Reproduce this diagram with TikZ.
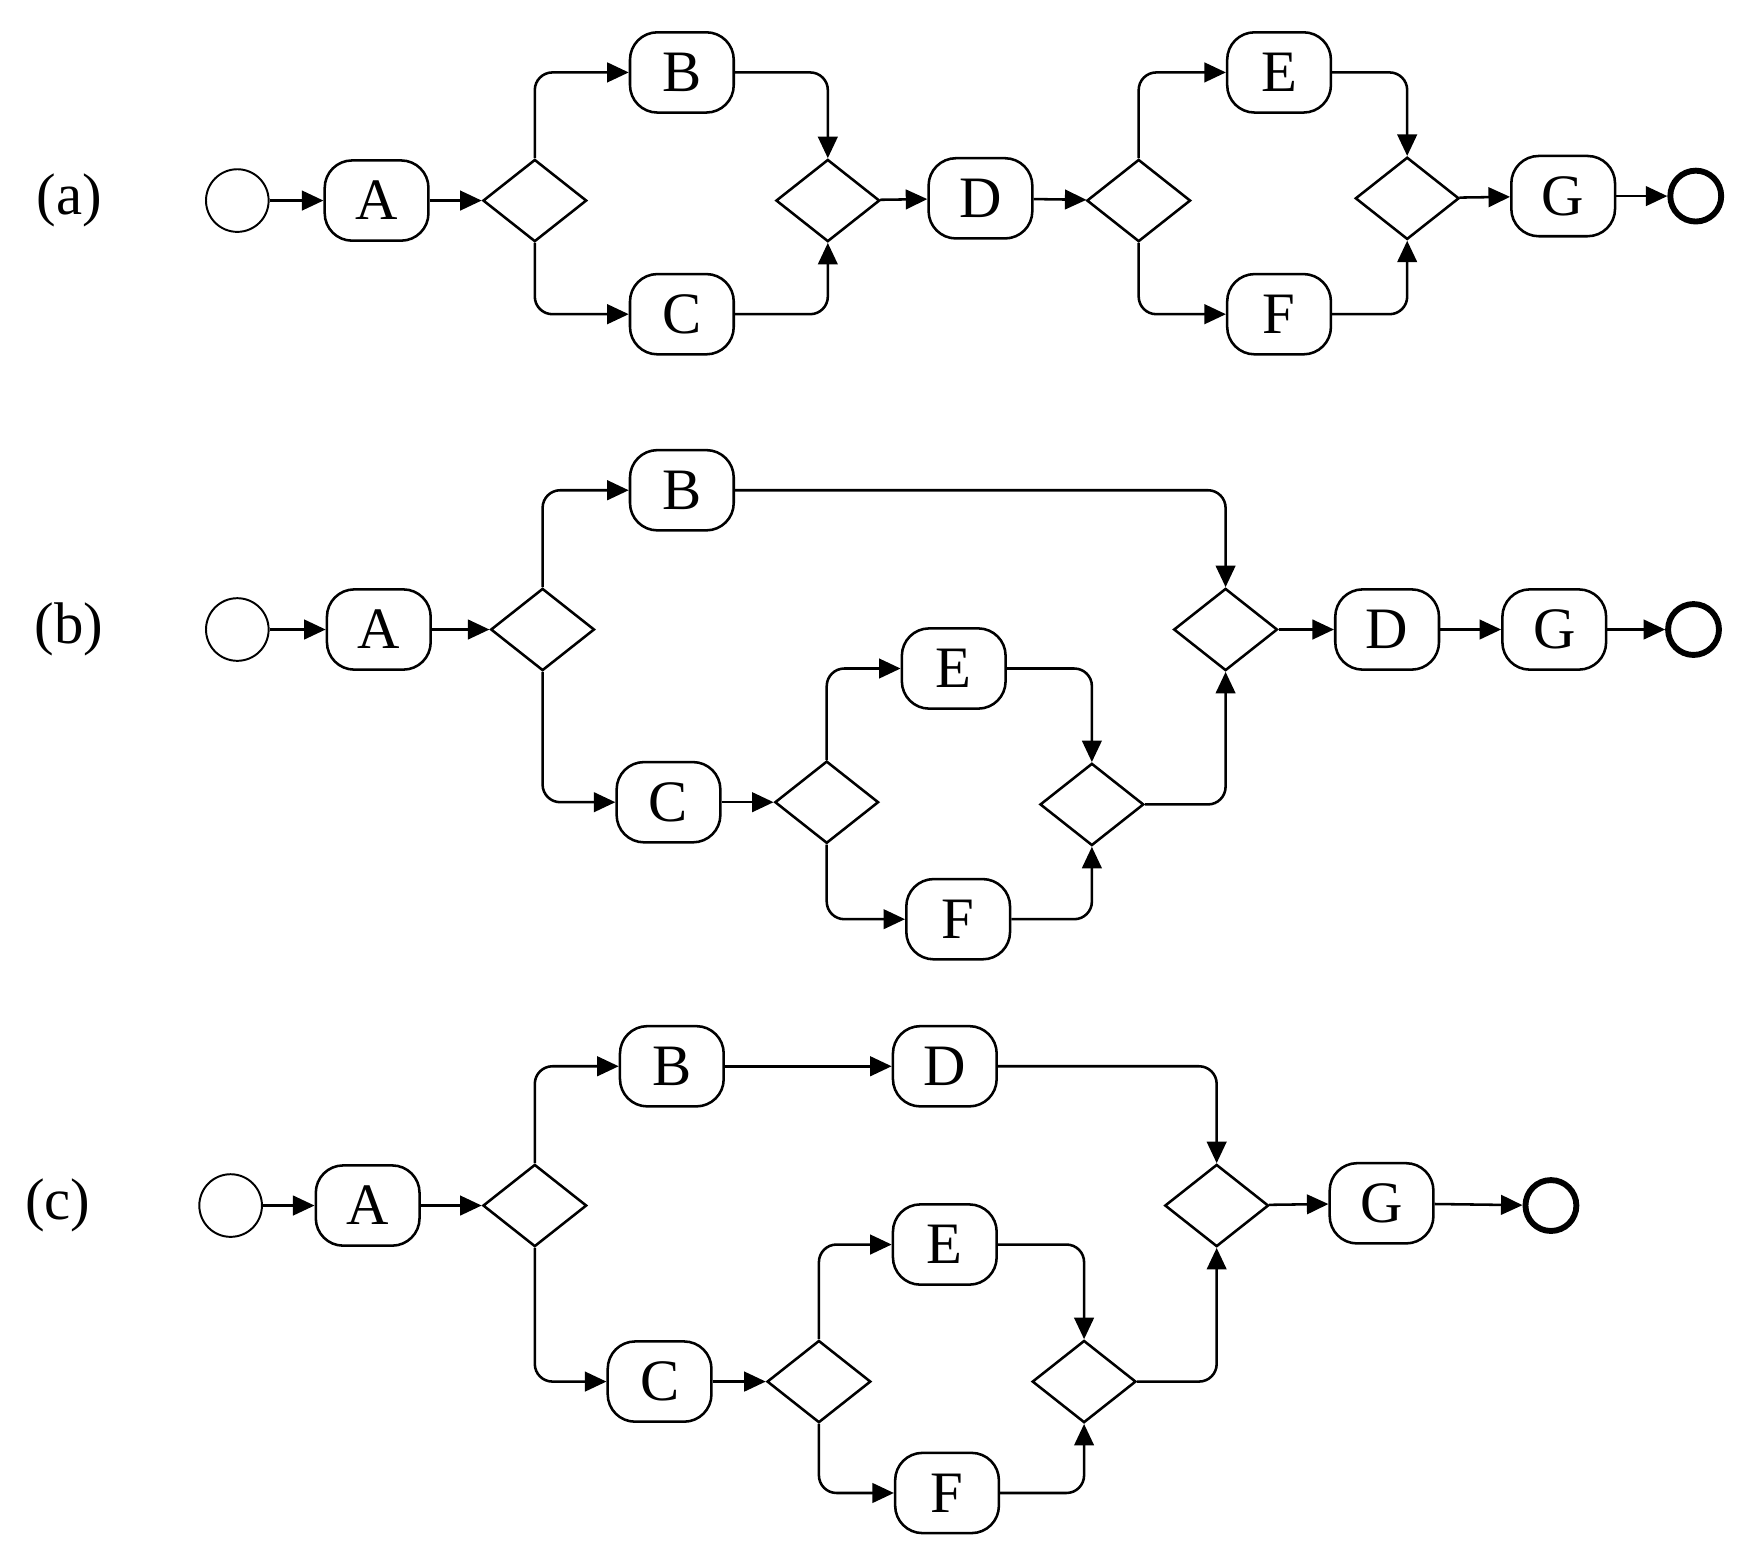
\documentclass[tikz,border=0pt]{standalone}
\usepackage{fontspec}
\setmainfont{Liberation Serif}
\usetikzlibrary{shapes.geometric,arrows.meta}
\begin{document}
\begin{tikzpicture}[x=0.02cm,y=-0.02cm,
  font=\fontsize{30}{36}\selectfont,
  task/.style={draw,line width=1.3pt,rounded corners=14pt,minimum width=53pt,minimum height=41pt,inner sep=0pt},
  gw/.style={draw,line width=1.3pt,diamond,minimum width=53pt,minimum height=42pt,inner sep=0pt,aspect=1.27},
  st/.style={draw,line width=1pt,circle,minimum size=32pt,inner sep=0pt},
  en/.style={draw,line width=3pt,circle,minimum size=26pt,inner sep=0pt},
  fl/.style={line width=1.3pt,rounded corners=9pt,-{Triangle[length=11pt,width=10pt]}},
  lab/.style={}]
\useasboundingbox (0,0) rectangle (1568,1407);
% (a)
\node[lab] (la) at (62,180) {(a)};
\node[st] (as) at (213,180) {};
\node[task] (aA) at (338,180) {A};
\node[gw] (ag1) at (480,180) {};
\node[task] (aB) at (612,65) {B};
\node[task] (aC) at (612,282) {C};
\node[gw] (aj1) at (743,180) {};
\node[task] (aD) at (880,178) {D};
\node[gw] (ag2) at (1022,180) {};
\node[task] (aE) at (1148,65) {E};
\node[task] (aF) at (1148,282) {F};
\node[gw] (aj2) at (1263,178) {};
\node[task] (aG) at (1403,176) {G};
\node[en] (ae) at (1522,176) {};
\draw[fl] (as) -- (aA);
\draw[fl] (aA) -- (ag1);
\draw[fl] (ag1.north) |- (aB);
\draw[fl] (ag1.south) |- (aC);
\draw[fl] (aB) -| (aj1.north);
\draw[fl] (aC) -| (aj1.south);
\draw[fl] (aj1) -- (aD);
\draw[fl] (aD) -- (ag2);
\draw[fl] (ag2.north) |- (aE);
\draw[fl] (ag2.south) |- (aF);
\draw[fl] (aE) -| (aj2.north);
\draw[fl] (aF) -| (aj2.south);
\draw[fl] (aj2) -- (aG);
\draw[fl] (aG) -- (ae);
% (b)
\node[lab] (lb) at (62,565) {(b)};
\node[st] (bs) at (213,565) {};
\node[task] (bA) at (340,565) {A};
\node[gw] (bg1) at (487,565) {};
\node[task] (bB) at (612,440) {B};
\node[task] (bC) at (600,720) {C};
\node[gw] (bg2) at (742,720) {};
\node[task] (bE) at (856,600) {E};
\node[task] (bF) at (860,825) {F};
\node[gw] (bj2) at (980,722) {};
\node[gw] (bj1) at (1100,565) {};
\node[task] (bD) at (1245,565) {D};
\node[task] (bG) at (1395,565) {G};
\node[en] (be) at (1520,565) {};
\draw[fl] (bs) -- (bA);
\draw[fl] (bA) -- (bg1);
\draw[fl] (bg1.north) |- (bB);
\draw[fl] (bg1.south) |- (bC);
\draw[fl] (bC) -- (bg2);
\draw[fl] (bg2.north) |- (bE);
\draw[fl] (bg2.south) |- (bF);
\draw[fl] (bE) -| (bj2.north);
\draw[fl] (bF) -| (bj2.south);
\draw[fl] (bB) -| (bj1.north);
\draw[fl] (bj2) -| (bj1.south);
\draw[fl] (bj1) -- (bD);
\draw[fl] (bD) -- (bG);
\draw[fl] (bG) -- (be);
% (c)
\node[lab] (lc) at (52,1082) {(c)};
\node[st] (cs) at (207,1082) {};
\node[task] (cA) at (330,1082) {A};
\node[gw] (cg1) at (480,1082) {};
\node[task] (cB) at (603,957) {B};
\node[task] (cD) at (848,957) {D};
\node[task] (cC) at (592,1240) {C};
\node[gw] (cg2) at (735,1240) {};
\node[task] (cE) at (848,1117) {E};
\node[task] (cF) at (850,1340) {F};
\node[gw] (cj2) at (973,1240) {};
\node[gw] (cj1) at (1092,1082) {};
\node[task] (cG) at (1240,1080) {G};
\node[en] (ce) at (1392,1082) {};
\draw[fl] (cs) -- (cA);
\draw[fl] (cA) -- (cg1);
\draw[fl] (cg1.north) |- (cB);
\draw[fl] (cB) -- (cD);
\draw[fl] (cg1.south) |- (cC);
\draw[fl] (cC) -- (cg2);
\draw[fl] (cg2.north) |- (cE);
\draw[fl] (cg2.south) |- (cF);
\draw[fl] (cE) -| (cj2.north);
\draw[fl] (cF) -| (cj2.south);
\draw[fl] (cD) -| (cj1.north);
\draw[fl] (cj2) -| (cj1.south);
\draw[fl] (cj1) -- (cG);
\draw[fl] (cG) -- (ce);
\end{tikzpicture}
\end{document}
